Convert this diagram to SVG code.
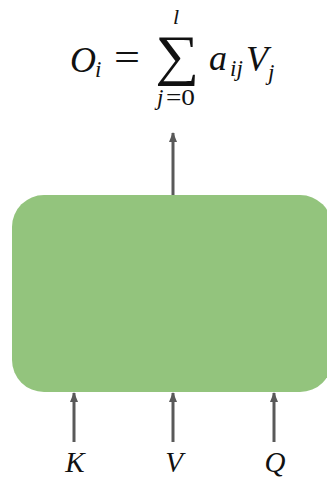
<svg xmlns="http://www.w3.org/2000/svg" width="327" height="478" viewBox="0 0 327 478">
<style>
.m{font-family:"Liberation Serif","DejaVu Serif",serif;font-style:italic;fill:#111}
.r{font-family:"Liberation Serif","DejaVu Serif",serif;fill:#111}
.c{stroke:#595959;stroke-width:3;fill:none}
</style>
<defs>
<marker id="ah" markerWidth="10" markerHeight="8" refX="9" refY="4" orient="auto" markerUnits="userSpaceOnUse" viewBox="0 0 10 8">
<path d="M0,0 L10,4 L0,8 Z" fill="#595959"/>
</marker>
</defs>
<rect width="327" height="478" fill="#fff"/>
<g id="formula">
<text class="m" x="70" y="72" font-size="36">O</text>
<text class="m" x="95" y="77" font-size="23">i</text>
<text class="r" x="114" y="71" font-size="40" textLength="26" lengthAdjust="spacingAndGlyphs">=</text>
<text class="r" x="155" y="74" font-size="56" textLength="44" lengthAdjust="spacingAndGlyphs">∑</text>
<text class="m" x="173" y="24" font-size="22">l</text>
<text class="m" x="157" y="105" font-size="23">j</text>
<text class="r" x="166" y="105" font-size="23" textLength="29" lengthAdjust="spacingAndGlyphs">=0</text>
<text class="m" x="209" y="70" font-size="36">a</text>
<text class="m" x="230" y="76" font-size="23">ij</text>
<text class="m" x="246" y="71" font-size="36">V</text>
<text class="m" x="268" y="80" font-size="23">j</text>
</g>
<g id="block">
<rect x="12" y="195" width="320" height="197" rx="32" ry="32" fill="#93c47d"/>
</g>
<g id="connectors">
<line class="c" x1="173" y1="195" x2="173" y2="133" marker-end="url(#ah)"/>
<line class="c" x1="74" y1="442" x2="74" y2="393" marker-end="url(#ah)"/>
<line class="c" x1="173" y1="442" x2="173" y2="393" marker-end="url(#ah)"/>
<line class="c" x1="274" y1="442" x2="274" y2="393" marker-end="url(#ah)"/>
</g>
<g id="labelK"><text class="m" x="75" y="472" font-size="29" text-anchor="middle">K</text></g>
<g id="labelV"><text class="m" x="174" y="472" font-size="29" text-anchor="middle">V</text></g>
<g id="labelQ"><text class="m" x="275" y="472" font-size="29" text-anchor="middle">Q</text></g>
</svg>
